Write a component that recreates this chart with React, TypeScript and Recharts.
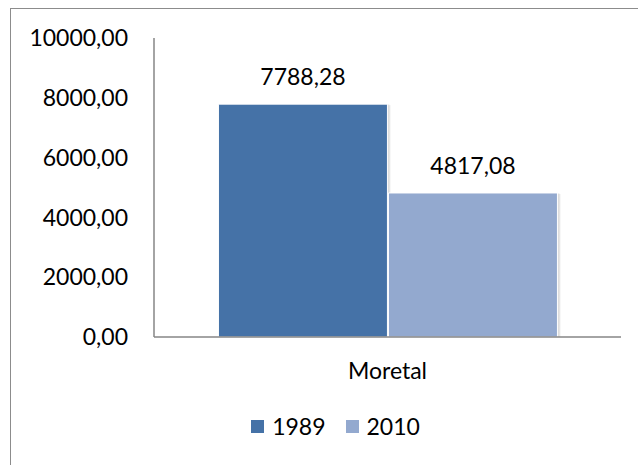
import { Bar, BarChart, LabelList, Legend, Rectangle, XAxis, YAxis } from 'recharts';

// Single-category column chart, two years side by side.
const categories = ['Moretal'];
const values1989 = [7788.28];
const values2010 = [4817.08];
const yTicks = [0, 2000, 4000, 6000, 8000, 10000];

const FONT = 'Lato, "Open Sans", sans-serif';
const DARK = '#4572A7';
const LIGHT = '#93A9CF';
const AXIS = '#868686';

const data = categories.map((name, i) => ({
  name,
  y1989: values1989[i],
  y2010: values2010[i],
}));

const fmt = (v: number) => Number(v).toFixed(2).replace('.', ',');

// bar with a soft shadow on the right, like the office-style export
function ShadowBar(props: any) {
  const { x, y, width, height } = props;
  return (
    <g>
      <rect x={x + 2} y={y + 1} width={width + 1} height={height - 1} fill="rgba(0,0,0,0.08)" />
      <rect x={x + 1} y={y} width={width + 1} height={height} fill="rgba(0,0,0,0.06)" />
      <Rectangle {...props} />
    </g>
  );
}

function LegendBox() {
  const items = [
    { label: '1989', colour: DARK },
    { label: '2010', colour: LIGHT },
  ];
  return (
    <div
      style={{
        display: 'flex',
        justifyContent: 'center',
        alignItems: 'center',
        height: 78,
        transform: 'translateX(25px)',
        fontFamily: FONT,
        fontSize: 23,
        color: '#000',
      }}
    >
      {items.map((it) => (
        <div
          key={it.label}
          style={{ display: 'flex', alignItems: 'center', margin: '0 10px' }}
        >
          <span
            style={{
              width: 13,
              height: 13,
              background: it.colour,
              marginRight: 8,
              display: 'inline-block',
            }}
          />
          <span>{it.label}</span>
        </div>
      ))}
    </div>
  );
}

export default function App() {
  return (
    <div
      style={{
        position: 'absolute',
        left: 0,
        top: 0,
        width: 638,
        height: 465,
        overflow: 'hidden',
        background: '#fff',
      }}
    >
      <div
        style={{
          position: 'absolute',
          left: 10,
          top: 8,
          width: 660,
          height: 480,
          border: '1px solid #8c8c8c',
        }}
      />
      <BarChart
        width={638}
        height={465}
        data={data}
        margin={{ top: 38, right: 17, left: 0, bottom: 0 }}
        barCategoryGap="13.8%"
        barGap={1}
      >
        <XAxis
          dataKey="name"
          tickLine={false}
          tickSize={0}
          tickMargin={26}
          height={50}
          axisLine={{ stroke: AXIS, strokeWidth: 1.5 }}
          tick={{ fill: '#000', fontSize: 23, fontFamily: FONT }}
        />
        <YAxis
          width={154}
          domain={[0, 10000]}
          ticks={yTicks}
          tickFormatter={fmt}
          tickLine={false}
          tickSize={0}
          tickMargin={26}
          axisLine={{ stroke: AXIS, strokeWidth: 1.5 }}
          tick={{ fill: '#000', fontSize: 23, fontFamily: FONT }}
        />
        <Legend
          verticalAlign="bottom"
          content={<LegendBox />}
          wrapperStyle={{ height: 78 }}
        />
        <Bar
          dataKey="y1989"
          name="1989"
          fill={DARK}
          stroke="#fff"
          strokeWidth={1}
          shape={ShadowBar}
          isAnimationActive={false}
        >
          <LabelList
            dataKey="y1989"
            position="top"
            offset={19}
            formatter={(v: any) => fmt(v)}
            style={{ fill: '#000', fontSize: 23, fontFamily: FONT }}
          />
        </Bar>
        <Bar
          dataKey="y2010"
          name="2010"
          fill={LIGHT}
          stroke="#fff"
          strokeWidth={1}
          shape={ShadowBar}
          isAnimationActive={false}
        >
          <LabelList
            dataKey="y2010"
            position="top"
            offset={19}
            formatter={(v: any) => fmt(v)}
            style={{ fill: '#000', fontSize: 23, fontFamily: FONT }}
          />
        </Bar>
      </BarChart>
    </div>
  );
}
